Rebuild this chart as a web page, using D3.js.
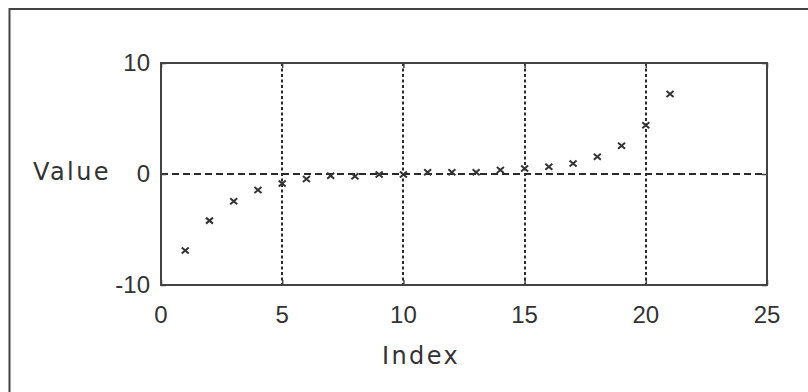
<!DOCTYPE html>
<html>
<head>
<meta charset="utf-8">
<script src="https://cdn.jsdelivr.net/npm/d3@7"></script>
<style>
  body { margin: 0; background: #fff; }
  .tick-label { font-family: "Liberation Sans Narrow", "Arial Narrow", "Liberation Sans", sans-serif; font-size: 24px; fill: #333; }
  .axis-label { font-family: "DejaVu Sans", sans-serif; font-size: 24px; fill: #333; letter-spacing: 2.4px; }
</style>
</head>
<body>
<div id="chart"></div>
<script>
// data
const indexes = [1, 2, 3, 4, 5, 6, 7, 8, 9, 10, 11, 12, 13, 14, 15, 16, 17, 18, 19, 20, 21];
const values = [-6.9, -4.2, -2.45, -1.45, -0.85, -0.45, -0.15, -0.2, -0.05, -0.05,
                0.15, 0.15, 0.15, 0.35, 0.5, 0.65, 0.95, 1.55, 2.55, 4.4, 7.2];
const xTicks = [0, 5, 10, 15, 20, 25];
const yTicks = [-10, 0, 10];
const xGrid = [5, 10, 15, 20];
const yGrid = [0];

const W = 808, H = 392;
const plot = {left: 161, right: 767, top: 63, bottom: 285};

const svg = d3.select("#chart")
    .append("svg")
        .attr("width", W)
        .attr("height", H);

// outer frame (only top & left edges visible in the crop)
svg.append("rect")
    .attr("x", 9.5).attr("y", 9)
    .attr("width", 900).attr("height", 500)
    .attr("fill", "none")
    .attr("stroke", "#444")
    .attr("stroke-width", 2);

const x = d3.scaleLinear().domain([0, 25]).range([plot.left, plot.right]);
const y = d3.scaleLinear().domain([-10, 10]).range([plot.bottom, plot.top]);

// grid lines
svg.selectAll(".vgrid")
    .data(xGrid)
    .enter().append("line")
        .attr("x1", d => Math.round(x(d))).attr("x2", d => Math.round(x(d)))
        .attr("y1", plot.top).attr("y2", plot.bottom)
        .attr("stroke", "#2a2a2a")
        .attr("stroke-width", 2)
        .attr("stroke-dasharray", "3,2.5");

svg.selectAll(".hgrid")
    .data(yGrid)
    .enter().append("line")
        .attr("x1", plot.left).attr("x2", plot.right)
        .attr("y1", d => Math.round(y(d))).attr("y2", d => Math.round(y(d)))
        .attr("stroke", "#2a2a2a")
        .attr("stroke-width", 2)
        .attr("stroke-dasharray", "7,4");

// axes: inward ticks, labels drawn separately
const axisStyle = g => {
    g.select(".domain").remove();
    g.selectAll("text").remove();
    g.selectAll("line").attr("stroke", "#444").attr("stroke-width", 1.5);
};
svg.append("g").attr("transform", `translate(0,${plot.bottom})`)
    .call(d3.axisBottom(x).tickValues(xTicks).tickSize(-5)).call(axisStyle);
svg.append("g").attr("transform", `translate(0,${plot.top})`)
    .call(d3.axisTop(x).tickValues(xTicks).tickSize(-5)).call(axisStyle);
svg.append("g").attr("transform", `translate(${plot.left},0)`)
    .call(d3.axisLeft(y).tickValues(yTicks).tickSize(-5)).call(axisStyle);
svg.append("g").attr("transform", `translate(${plot.right},0)`)
    .call(d3.axisRight(y).tickValues(yTicks).tickSize(-5)).call(axisStyle);

// plot box
svg.append("rect")
    .attr("x", plot.left).attr("y", plot.top)
    .attr("width", plot.right - plot.left)
    .attr("height", plot.bottom - plot.top)
    .attr("fill", "none")
    .attr("stroke", "#444")
    .attr("stroke-width", 2);

// tick labels
svg.selectAll(".xlab")
    .data(xTicks)
    .enter().append("text")
        .attr("class", "tick-label")
        .attr("x", d => x(d))
        .attr("y", plot.bottom + 38)
        .attr("text-anchor", "middle")
        .text(d => d);

svg.selectAll(".ylab")
    .data(yTicks)
    .enter().append("text")
        .attr("class", "tick-label")
        .attr("x", plot.left - 11)
        .attr("y", d => y(d) + 8)
        .attr("text-anchor", "end")
        .text(d => d);

// axis titles
svg.append("text")
    .attr("class", "axis-label")
    .attr("x", 33)
    .attr("y", 180)
    .text("Value");

svg.append("text")
    .attr("class", "axis-label")
    .attr("x", 421)
    .attr("y", 364)
    .attr("text-anchor", "middle")
    .text("Index");

// x markers
const data = indexes.map((d, i) => ({i: d, v: values[i]}));
svg.selectAll(".pt")
    .data(data)
    .enter().append("path")
        .attr("class", "pt")
        .attr("transform", d => `translate(${x(d.i)},${y(d.v)})`)
        .attr("d", "M-3.5,-3L3.5,3M-3.5,3L3.5,-3")
        .attr("stroke", "#333")
        .attr("stroke-width", 2)
        .attr("fill", "none");
</script>
</body>
</html>
